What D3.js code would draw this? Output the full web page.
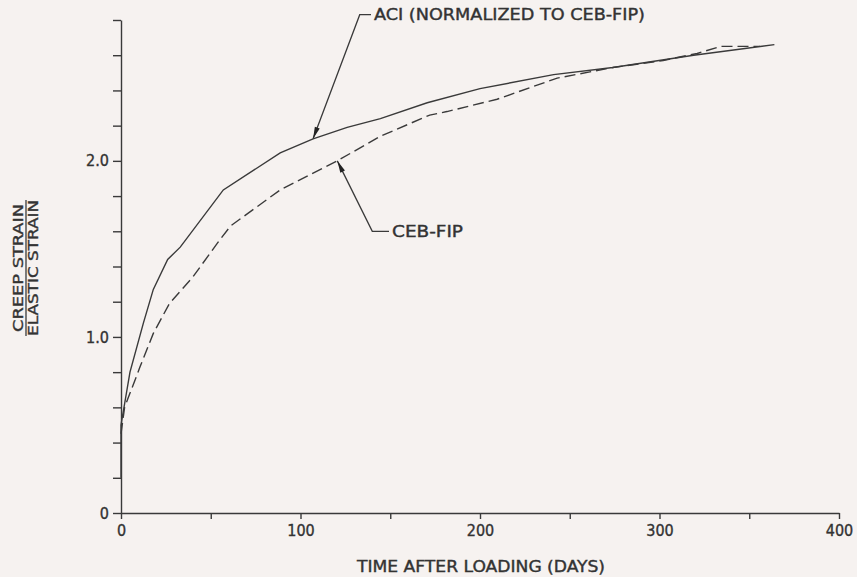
<!DOCTYPE html>
<html>
<head>
<meta charset="utf-8">
<script src="https://cdn.jsdelivr.net/npm/d3@7"></script>
<style>
  body { margin: 0; background: #f6f2f0; }
  svg { display: block; }
  text { font-family: "DejaVu Sans Condensed", "DejaVu Sans", sans-serif; fill: #333; stroke: #333; stroke-width: 0.35px; }
</style>
</head>
<body>
<div id="chart"></div>
<script>
// ACI curve (normalized to CEB-FIP)
const aciDays  = [0, 0, 5, 12.5, 18, 26, 33, 57, 88.7, 107, 126, 144.5, 170.6, 200, 241, 274, 319, 364];
const aciRatio = [0.2, 0.5, 0.80, 1.08, 1.27, 1.44, 1.51, 1.835, 2.045, 2.125, 2.19, 2.24, 2.33, 2.41, 2.49, 2.53, 2.60, 2.66];

// CEB-FIP curve
const cebDays  = [0, 2, 10.6, 18, 27, 40, 53.5, 61, 88.7, 120.5, 144.5, 172, 181.6, 209.5, 243, 274, 302, 321, 334, 349, 356];
const cebRatio = [0.45, 0.6, 0.83, 1.02, 1.19, 1.34, 1.53, 1.63, 1.835, 2.0, 2.14, 2.26, 2.28, 2.35, 2.47, 2.53, 2.57, 2.61, 2.65, 2.65, 2.65];

const xTicks = [0, 50, 100, 150, 200, 250, 300, 350, 400];
const xLabels = [0, 100, 200, 300, 400];
const yTicks = [0, 0.2, 0.4, 0.6, 0.8, 1.0, 1.2, 1.4, 1.6, 1.8, 2.0, 2.2, 2.4, 2.6, 2.8];
const yLabels = [0, 1.0, 2.0];

const width = 857, height = 577;
const ink = "#3a3a3a";

const svg = d3.select("#chart").append("svg")
    .attr("width", width)
    .attr("height", height);

const x = d3.scaleLinear().domain([0, 400]).range([121, 839]);
const y = d3.scaleLinear().domain([0, 2.8]).range([513, 20]);

// axes
const xAxis = svg.append("g")
    .attr("transform", `translate(0,${y(0)})`)
    .call(d3.axisBottom(x)
        .tickValues(xTicks)
        .tickSize(6)
        .tickSizeOuter(0)
        .tickPadding(6)
        .tickFormat(d => xLabels.includes(d) ? d : ""));

const yAxis = svg.append("g")
    .attr("transform", `translate(${x(0)},0)`)
    .call(d3.axisLeft(y)
        .tickValues(yTicks)
        .tickSize(8)
        .tickSizeOuter(0)
        .tickPadding(4)
        .tickFormat(d => {
            const hit = yLabels.find(v => Math.abs(v - d) < 1e-9);
            return hit === undefined ? "" : (hit === 0 ? "0" : hit.toFixed(1));
        }));

[xAxis, yAxis].forEach(g => {
    g.selectAll("path, line").attr("stroke", ink).attr("stroke-width", 1.4);
    g.selectAll("text")
        .attr("font-family", "DejaVu Sans Condensed, DejaVu Sans, sans-serif")
        .attr("font-size", "16px")
        .attr("fill", "#333");
});

// axis titles
svg.append("text")
    .attr("x", 481)
    .attr("y", 572)
    .attr("text-anchor", "middle")
    .attr("font-size", "15px")
    .attr("textLength", 248)
    .attr("lengthAdjust", "spacingAndGlyphs")
    .text("TIME AFTER LOADING (DAYS)");

const yTitle = svg.append("g")
    .attr("transform", "translate(26,268) rotate(-90)");
yTitle.append("text")
    .attr("x", 0)
    .attr("y", -3)
    .attr("text-anchor", "middle")
    .attr("font-size", "14px")
    .attr("textLength", 128)
    .attr("lengthAdjust", "spacingAndGlyphs")
    .text("CREEP STRAIN");
yTitle.append("line")
    .attr("x1", -68).attr("x2", 68)
    .attr("y1", 0).attr("y2", 0)
    .attr("stroke", ink)
    .attr("stroke-width", 1.3);
yTitle.append("text")
    .attr("x", 0)
    .attr("y", 12)
    .attr("text-anchor", "middle")
    .attr("font-size", "14px")
    .attr("textLength", 136)
    .attr("lengthAdjust", "spacingAndGlyphs")
    .text("ELASTIC STRAIN");

// curves
const line = d3.line()
    .x(d => x(d[0]))
    .y(d => y(d[1]));

svg.append("path")
    .datum(aciDays.map((d, i) => [d, aciRatio[i]]))
    .attr("d", line)
    .attr("fill", "none")
    .attr("stroke", ink)
    .attr("stroke-width", 1.4);

svg.append("path")
    .datum(cebDays.map((d, i) => [d, cebRatio[i]]))
    .attr("d", line)
    .attr("fill", "none")
    .attr("stroke", ink)
    .attr("stroke-width", 1.4)
    .attr("stroke-dasharray", "11,5");

// leaders with arrowheads
function leader(tip, corner, textX, label, textLen) {
    const tx = x(tip[0]), ty = y(tip[1]);
    const cx = x(corner[0]), cy = y(corner[1]);
    svg.append("path")
        .attr("d", `M${textX - 3},${cy}H${cx}L${tx},${ty}`)
        .attr("fill", "none")
        .attr("stroke", ink)
        .attr("stroke-width", 1.3);
    const ang = Math.atan2(cy - ty, cx - tx);
    const len = 12, half = 2.6;
    const bx = tx + len * Math.cos(ang), by = ty + len * Math.sin(ang);
    const px = -Math.sin(ang) * half, py = Math.cos(ang) * half;
    svg.append("path")
        .attr("d", `M${tx},${ty}L${bx + px},${by + py}L${bx - px},${by - py}Z`)
        .attr("fill", "#222");
    svg.append("text")
        .attr("x", textX)
        .attr("y", cy + 5.5)
        .attr("font-size", "15px")
        .attr("textLength", textLen)
        .attr("lengthAdjust", "spacingAndGlyphs")
        .text(label);
}

leader([107, 2.125], [133, 2.83], 374, "ACI (NORMALIZED TO CEB-FIP)", 271);
leader([120.5, 2.0], [140, 1.6], 392, "CEB-FIP", 71);
</script>
</body>
</html>
